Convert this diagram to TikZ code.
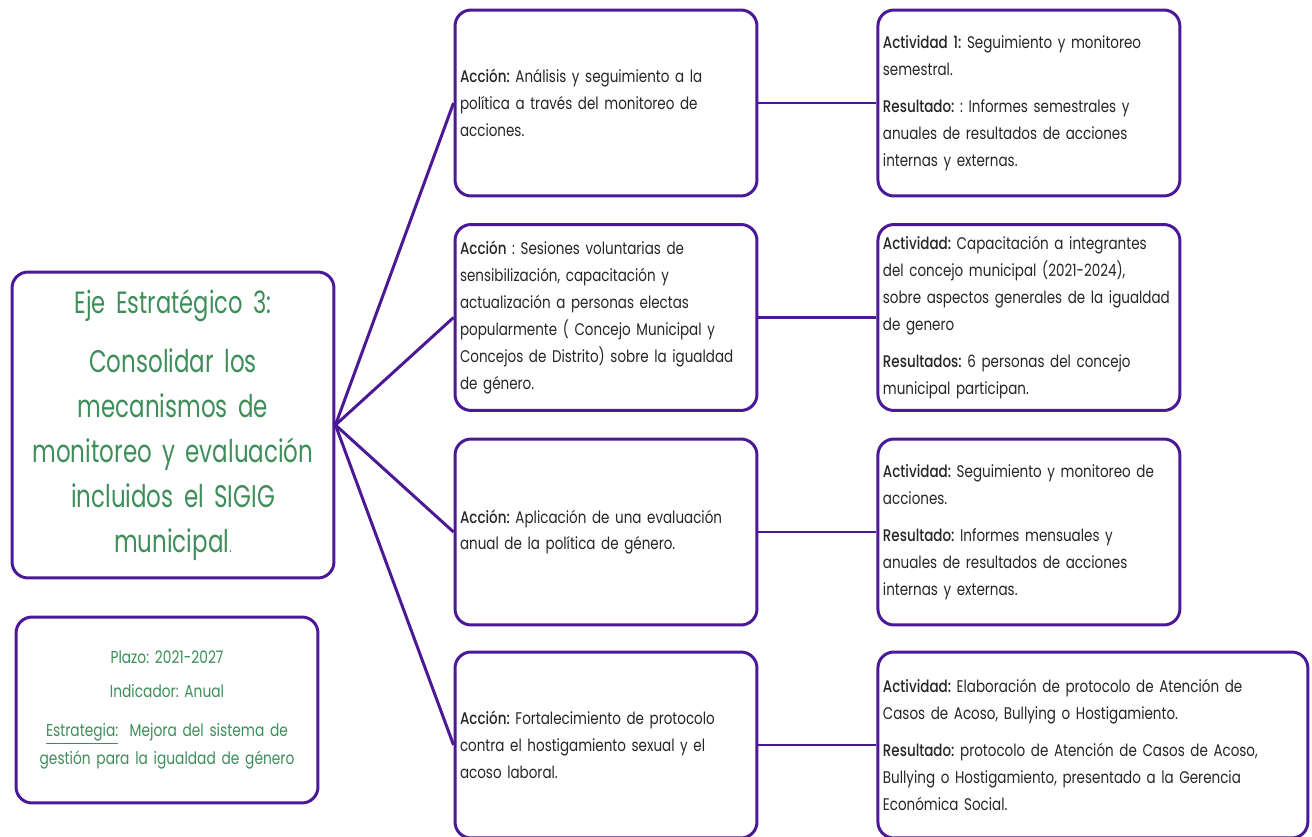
\documentclass[tikz,border=0pt]{standalone}
\usepackage{fontspec}
\setmainfont{Poppins}[FakeStretch=0.8, BoldFont={Poppins Medium}]
\newfontfamily\ejefont{Poppins}[FakeStretch=0.735]
\usepackage{xcolor}
\usetikzlibrary{positioning}

\definecolor{borde}{RGB}{75,25,150}
\definecolor{verde}{RGB}{62,142,90}
\definecolor{texto}{RGB}{38,38,38}
\newcommand{\letra}[2]{\fontsize{#1}{#2}\selectfont\frenchspacing}

\begin{document}
\begin{tikzpicture}[
    x=0.02cm, y=-0.02cm,
    caja/.style={rectangle, rounded corners=0.32cm, draw=borde, line width=1.7pt, fill=white, inner xsep=0.1cm, align=left, text=texto},
    accion/.style={caja, text width=5.84cm, minimum height=3.72cm, font=\letra{9.6}{15.3}},
    eje/.style={caja, align=center, text=verde, text width=6.24cm, minimum height=6.12cm, font=\ejefont\letra{17.8}{25.6}},
    info/.style={caja, align=center, text=verde, text width=5.84cm, minimum height=3.72cm, font=\letra{9.8}{16}},
    link/.style={draw=borde, line width=1.7pt}
]
\useasboundingbox (0,0) rectangle (1312,837);

% eje y datos
\node[eje] (eje) at (173,425) {{\letra{17.5}{25.6}Eje Estratégico 3:}\\[8.5pt]
    Consolidar los\\mecanismos de\\monitoreo y evaluación\\incluidos el SIGIG\\municipal{\fontsize{9}{10}\selectfont.}};
\node[info] (plazo) at (167,710) {Plazo: 2021-2027\\[3.4pt]Indicador: Anual\\[6.2pt]
    \underline{Estrategia:}\ \ Mejora del sistema de\\gestión para la igualdad de género};

% acciones
\node[accion] (acc1) at (606,103) {\textbf{Acción:} Análisis y seguimiento a la\\política a través del monitoreo de\\acciones.};
\node[accion] (acc2) at (606,317.5) {\textbf{Acción} : Sesiones voluntarias de\\sensibilización, capacitación y\\actualización a personas electas\\popularmente ( Concejo Municipal y\\Concejos de Distrito) sobre la igualdad\\de género.};
\node[accion] (acc3) at (606,532) {\textbf{Acción:} Aplicación de una evaluación\\anual de la política de género.};
\node[accion] (acc4) at (606,745) {\textbf{Acción:} Fortalecimiento de protocolo\\contra el hostigamiento sexual y el\\acoso laboral.};

% actividades
\node[accion, right=2.36cm of acc1] (act1) {\textbf{Actividad 1:} Seguimiento y monitoreo\\semestral.\\[5.7pt]
    \textbf{Resultado:} : Informes semestrales y\\anuales de resultados de acciones\\internas y externas.};
\node[accion, right=2.36cm of acc2] (act2) {\textbf{Actividad:} Capacitación a integrantes\\del concejo municipal (2021-2024),\\sobre aspectos generales de la igualdad\\de genero\\[5.7pt]
    \textbf{Resultados:} 6 personas del concejo\\municipal participan.};
\node[accion, right=2.36cm of acc3] (act3) {\textbf{Actividad:} Seguimiento y monitoreo de\\acciones.\\[5.7pt]
    \textbf{Resultado:} Informes mensuales y\\anuales de resultados de acciones\\internas y externas.};
\node[accion, text width=8.4cm, right=2.36cm of acc4] (act4) {\textbf{Actividad:} Elaboración de protocolo de Atención de\\Casos de Acoso, Bullying o Hostigamiento.\\[5.7pt]
    \textbf{Resultado:} protocolo de Atención de Casos de Acoso,\\Bullying o Hostigamiento, presentado a la Gerencia\\Económica Social.};

% conectores
\foreach \n in {1,...,4}{
    \draw[link] (eje.east) -- (acc\n.west);
    \draw[link] (acc\n.east) -- (act\n.west);
}
\end{tikzpicture}
\end{document}
